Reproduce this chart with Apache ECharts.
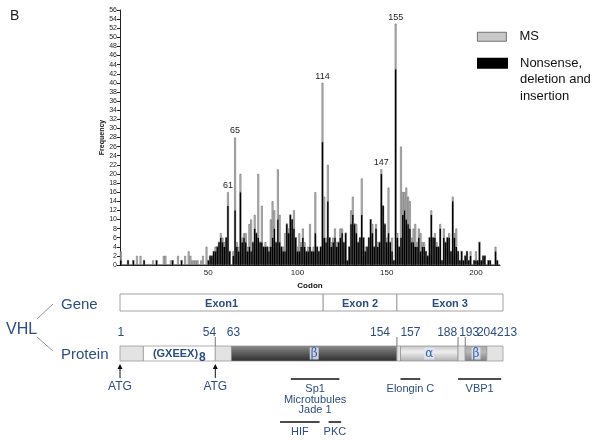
<!DOCTYPE html>
<html><head><meta charset="utf-8">
<script src="https://cdn.jsdelivr.net/npm/echarts@6/dist/echarts.min.js"></script>
<style>html,body{margin:0;padding:0;background:#fff}#c{width:600px;height:440px}</style>
</head><body><div id="c"></div>
<script>
// ---------- data ----------
const codons = Array.from({length: 213}, (_, i) => String(i + 1));
const xTickLabels = ['50', '100', '150', '200'];
const labeledCodons = [61, 65, 114, 147, 155];
// Nonsense, deletion and insertion (black), codon 1..213
const nsCounts = [
  1,0,0,0,1,0,0,1,0,0,
  0,0,0,1,0,0,0,0,0,0,
  1,0,0,0,0,0,0,0,0,1,
  0,0,0,0,1,0,0,0,0,0,
  0,0,0,0,0,0,0,0,0,1,
  2,2,3,3,4,5,6,5,4,6,
  13,3,0,2,12,4,3,16,5,6,
  5,3,4,3,5,8,7,6,5,5,
  4,4,4,3,4,6,8,5,10,5,
  4,3,3,9,7,11,10,8,6,3,
  3,4,6,4,3,3,4,3,3,7,
  4,3,4,27,6,5,14,6,4,5,
  6,4,5,6,7,5,7,1,4,9,
  11,9,7,5,6,11,6,3,4,6,
  10,7,4,8,4,5,20,13,9,5,
  7,5,3,1,43,6,4,6,11,12,
  10,9,8,5,5,4,4,6,3,4,
  4,3,2,6,11,6,6,4,4,8,
  1,6,5,6,6,3,14,6,4,3,
  1,3,1,2,3,1,2,0,1,1,
  1,5,1,2,2,0,1,1,0,0,
  3,1,0
];
// MS (grey), stacked on top
const msCounts = [
  2,0,0,0,0,0,0,0,0,2,
  0,2,0,0,0,0,0,0,1,0,
  0,0,0,0,2,2,0,0,1,0,
  0,0,2,0,0,0,2,0,3,2,
  1,1,1,1,0,1,2,0,4,0,
  0,0,0,1,0,0,1,1,1,0,
  3,0,0,1,16,1,1,4,1,1,
  2,1,5,7,0,3,0,14,0,8,
  0,1,0,1,6,8,4,0,11,6,
  0,1,4,0,1,0,0,4,0,1,
  4,1,2,1,0,1,5,0,1,9,
  0,0,0,13,9,1,8,0,1,1,
  2,1,0,2,1,0,0,0,0,3,
  4,0,2,0,0,8,0,1,0,0,
  0,2,0,1,1,0,1,0,0,1,
  10,0,3,0,10,1,0,20,5,4,
  7,6,6,1,3,5,1,2,4,1,
  1,0,0,0,1,0,1,1,0,1,
  0,2,0,0,1,0,1,1,4,0,
  0,0,0,0,0,0,1,0,0,2,
  0,0,0,0,0,0,0,0,0,0,
  1,0,0
];
// gene / protein schematic (codon units)
const exonNames = ['Exon1', 'Exon 2', 'Exon 3'];
const exonStart = [1, 114, 155];
const exonEnd = [113, 154, 213];
const segStart = [1, 14, 54, 63, 155, 157, 189, 193, 205];
const segEnd = [13, 53, 62, 154, 156, 188, 192, 204, 213];
const segType = ['light', 'repeat', 'light', 'beta', 'light', 'alpha', 'light', 'beta2', 'light'];
const posLabels = [1, 54, 63, 154, 157, 188, 193, 204, 213];
const tickBoundary = [53, 154, 188, 192];
const atgSites = [1, 54];
const bindNames = ['Sp1\nMicrotubules\nJade 1', 'Elongin C', 'VBP1', 'HIF', 'PKC'];
const bindStart = [96, 157, 189, 90, 117];
const bindEnd = [122, 167, 212, 111, 123];
const bindRow = [0, 0, 0, 1, 1];

// ---------- styles ----------
const BLUE = '#2b4c86';
const FONT = 'Liberation Sans, Arial, sans-serif';
const posAlign = ['center', 'right', 'center', 'right', 'left', 'right', 'center', 'center', 'left'];
const posDx = [0, 0, 1, -6, -1, 0, 3, 1, -5];
const ROW = {geneTop: 14, geneBot: 31, numY: 53, tickTop: 57, protTop: 66, protBot: 81,
  arrowTop: 84, arrowBot: 98, atgY: 107, lineY: [99, 142], textY: [108, 151]};
const segFill = {
  light: '#e3e3e3',
  repeat: '#ffffff',
  beta: {type: 'linear', x: 0, y: 0, x2: 0, y2: 1, colorStops: [
    {offset: 0, color: '#8c8c8c'}, {offset: 0.3, color: '#6e6e6e'}, {offset: 1, color: '#2c2c2c'}]},
  alpha: {type: 'linear', x: 0, y: 0, x2: 0, y2: 1, colorStops: [
    {offset: 0, color: '#c4c4c4'}, {offset: 0.4, color: '#eeeeee'}, {offset: 1, color: '#b0b0b0'}]},
  beta2: {type: 'linear', x: 0, y: 0, x2: 0, y2: 1, colorStops: [
    {offset: 0, color: '#a8a8a8'}, {offset: 0.4, color: '#b8b8b8'}, {offset: 1, color: '#7c7c7c'}]}
};

const chart = echarts.init(document.getElementById('c'), null, {renderer: 'canvas'});
const isTick = (i, v) => xTickLabels.indexOf(String(v)) >= 0;

const msData = msCounts.map((v, i) => labeledCodons.indexOf(i + 1) >= 0
  ? {value: v, label: {show: true, position: 'top', distance: 2, formatter: String(i + 1),
      fontSize: 9, color: '#222', fontFamily: FONT}}
  : v);

const diag = {type: 'custom', xAxisIndex: 1, yAxisIndex: 1, clip: false, silent: true, encode: {x: [0, 1]}};
const legendBase = {orient: 'vertical', left: 477, padding: 0, itemWidth: 29, itemHeight: 9,
  icon: 'rect', selectedMode: false,
  textStyle: {fontSize: 13, lineHeight: 16.5, color: '#111', fontFamily: FONT, padding: [0, 0, 0, 8]}};

option = {
  animation: false,
  title: {text: 'B', left: 5, top: 4, textStyle: {fontSize: 14, fontWeight: 'normal', color: '#222', fontFamily: FONT}},
  legend: [
    Object.assign({}, legendBase, {top: 28.5,
      data: [{name: 'MS', itemStyle: {color: '#c8c8c8', borderColor: '#555', borderWidth: 0.8}}]}),
    Object.assign({}, legendBase, {top: 22,
      data: [{name: 'Nonsense, deletion and insertion', itemStyle: {color: '#000'}}],
      formatter: () => ' \n \nNonsense,\ndeletion and\ninsertion'})
  ],
  grid: [
    {left: 120, right: 100, top: 10, bottom: 175},
    {left: 120, right: 97, top: 280, height: 160}
  ],
  xAxis: [
    {type: 'category', data: codons, gridIndex: 0,
      name: 'Codon', nameLocation: 'middle', nameGap: 15,
      nameTextStyle: {fontSize: 8, fontWeight: 'bold', color: '#111', fontFamily: FONT},
      axisLine: {lineStyle: {color: '#222', width: 1}},
      axisTick: {interval: isTick, alignWithLabel: true, length: 3, lineStyle: {color: '#222'}},
      axisLabel: {interval: isTick, fontSize: 8, color: '#222', margin: 4, fontFamily: FONT},
      splitLine: {show: false}},
    {type: 'value', gridIndex: 1, min: 0, max: 213, show: false}
  ],
  yAxis: [
    {type: 'value', gridIndex: 0, min: 0, max: 56, interval: 2,
      name: 'Frequency', nameLocation: 'middle', nameGap: 14, nameMoveOverlap: false,
      nameTextStyle: {fontSize: 7, fontWeight: 'bold', color: '#111', fontFamily: FONT},
      axisLine: {show: true, lineStyle: {color: '#222', width: 1}},
      axisTick: {show: true, length: 3, lineStyle: {color: '#222'}},
      axisLabel: {fontSize: 7, color: '#222', margin: 3, fontFamily: FONT},
      splitLine: {show: false}},
    {type: 'value', gridIndex: 1, min: 0, max: 160, inverse: true, show: false}
  ],
  series: [
    {name: 'Nonsense, deletion and insertion', type: 'bar', stack: 'f', data: nsCounts,
      barWidth: '100%', itemStyle: {color: '#000', borderColor: '#000', borderWidth: 0.3}},
    {name: 'MS', type: 'bar', stack: 'f', data: msData, barWidth: '100%',
      itemStyle: {color: '#c8c8c8', borderColor: '#555', borderWidth: 0.5}},
    // gene exons
    Object.assign({}, diag, {
      data: exonNames.map((n, i) => [exonStart[i] - 1, exonEnd[i]]),
      renderItem(p, api) {
        const a = api.coord([api.value(0), ROW.geneTop]), b = api.coord([api.value(1), ROW.geneBot]);
        return {type: 'group', children: [
          {type: 'rect', shape: {x: a[0], y: a[1], width: b[0] - a[0], height: b[1] - a[1]},
            style: {fill: '#fff', stroke: '#8a8a8a', lineWidth: 0.8}},
          {type: 'text', style: {text: exonNames[p.dataIndex], x: (a[0] + b[0]) / 2, y: (a[1] + b[1]) / 2 + 1,
            align: 'center', verticalAlign: 'middle', fill: BLUE, font: 'bold 11px ' + FONT}}]};
      }}),
    // protein segments
    Object.assign({}, diag, {
      data: segStart.map((s, i) => [s - 1, segEnd[i]]),
      renderItem(p, api) {
        const t = segType[p.dataIndex];
        const a = api.coord([api.value(0), ROW.protTop]), b = api.coord([api.value(1), ROW.protBot]);
        const ch = [{type: 'rect', shape: {x: a[0], y: a[1], width: b[0] - a[0], height: b[1] - a[1]},
          style: {fill: segFill[t], stroke: '#8e8e8e', lineWidth: 0.7}}];
        const cx = (a[0] + b[0]) / 2, cy = (a[1] + b[1]) / 2;
        if (t === 'repeat') {
          ch.push({type: 'text', style: {text: '{a|(GXEEX)}{b|8}', x: cx, y: cy, align: 'center', verticalAlign: 'middle',
            rich: {a: {fontSize: 11, fontWeight: 'bold', fill: BLUE, fontFamily: FONT},
              b: {fontSize: 12, fontWeight: 'bold', fill: BLUE, fontFamily: FONT, padding: [8, 0, 0, 1]}}}});
        } else if (t === 'beta' || t === 'alpha' || t === 'beta2') {
          ch.push({type: 'text', style: {text: t === 'alpha' ? 'α' : 'β', x: cx, y: cy, align: 'center', verticalAlign: 'middle',
            fill: '#3a64a8', font: '12px DejaVu Serif, serif', backgroundColor: 'rgba(225,232,244,0.85)', padding: [0, 1, 0, 1]}});
        }
        return {type: 'group', children: ch};
      }}),
    // position numbers
    Object.assign({}, diag, {
      data: posLabels.map(n => [n - 0.5, n - 0.5]),
      renderItem(p, api) {
        const a = api.coord([api.value(0), ROW.numY]);
        return {type: 'text', style: {text: String(posLabels[p.dataIndex]), x: a[0] + posDx[p.dataIndex], y: a[1],
          align: posAlign[p.dataIndex], verticalAlign: 'middle', fill: BLUE, font: '12px ' + FONT}};
      }}),
    // boundary ticks
    Object.assign({}, diag, {
      data: tickBoundary.map(n => [n, n]),
      renderItem(p, api) {
        const a = api.coord([api.value(0), ROW.tickTop]), b = api.coord([api.value(0), ROW.protTop]);
        return {type: 'line', shape: {x1: a[0], y1: a[1], x2: b[0], y2: b[1]}, style: {stroke: '#555', lineWidth: 0.8}};
      }}),
    // ATG arrows
    Object.assign({}, diag, {
      data: atgSites.map(n => [n - 1, n - 1]),
      renderItem(p, api) {
        const t = api.coord([api.value(0), ROW.arrowTop]), b = api.coord([api.value(0), ROW.arrowBot]);
        const g = api.coord([api.value(0), ROW.atgY]);
        return {type: 'group', children: [
          {type: 'line', shape: {x1: b[0], y1: b[1], x2: t[0], y2: t[1] + 3}, style: {stroke: '#111', lineWidth: 1}},
          {type: 'polygon', shape: {points: [[t[0], t[1]], [t[0] - 2.5, t[1] + 5], [t[0] + 2.5, t[1] + 5]]}, style: {fill: '#111'}},
          {type: 'text', style: {text: 'ATG', x: g[0], y: g[1], align: 'center', verticalAlign: 'middle', fill: BLUE, font: '12px ' + FONT}}]};
      }}),
    // binding regions
    Object.assign({}, diag, {
      data: bindStart.map((s, i) => [s - 1, bindEnd[i]]),
      renderItem(p, api) {
        const r = bindRow[p.dataIndex];
        const a = api.coord([api.value(0), ROW.lineY[r]]), b = api.coord([api.value(1), ROW.lineY[r]]);
        const ty = api.coord([api.value(0), ROW.textY[r]])[1];
        return {type: 'group', children: [
          {type: 'line', shape: {x1: a[0], y1: a[1], x2: b[0], y2: b[1]}, style: {stroke: '#111', lineWidth: 1.5}},
          {type: 'text', style: {text: bindNames[p.dataIndex], x: (a[0] + b[0]) / 2, y: ty - 4, align: 'center', verticalAlign: 'top',
            fill: BLUE, font: '11px ' + FONT, lineHeight: 10.5}}]};
      }})
  ],
  graphic: [
    {type: 'text', left: 6, top: 322, style: {text: 'VHL', fill: BLUE, font: '16px ' + FONT}},
    {type: 'text', left: 61, top: 297, style: {text: 'Gene', fill: BLUE, font: '15px ' + FONT}},
    {type: 'text', left: 61, top: 347, style: {text: 'Protein', fill: BLUE, font: '15px ' + FONT}},
    {type: 'line', shape: {x1: 37, y1: 319, x2: 53, y2: 304}, style: {stroke: '#777', lineWidth: 0.8}},
    {type: 'line', shape: {x1: 37, y1: 337, x2: 53, y2: 351}, style: {stroke: '#777', lineWidth: 0.8}}
  ]
};
chart.setOption(option);
</script>
</body></html>
